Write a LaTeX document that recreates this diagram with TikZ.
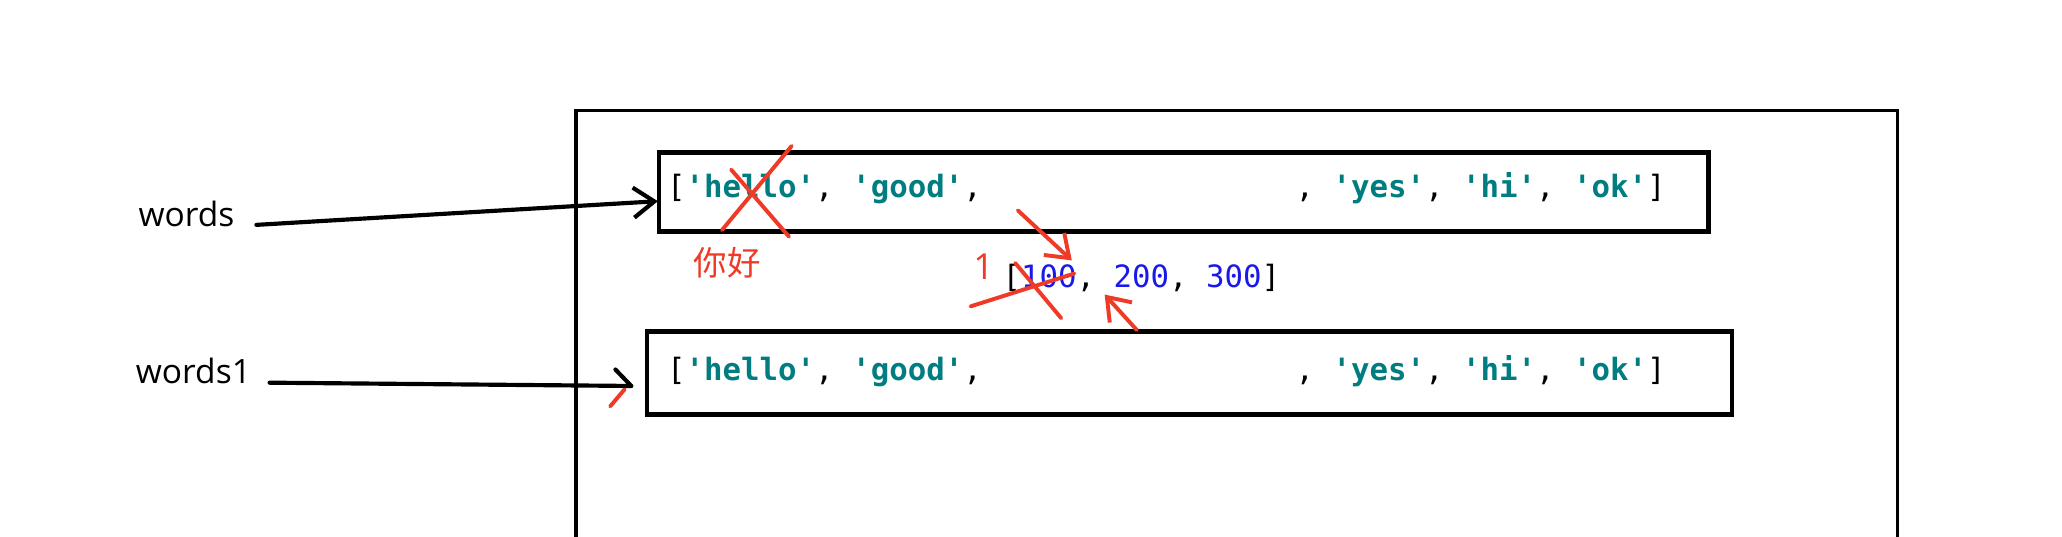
\documentclass[tikz,border=0pt]{standalone}
\usepackage{fontspec}
\usetikzlibrary{arrows.meta,fit,calc}
\newfontfamily\monof{DejaVu Sans Mono}
\newfontfamily\labf{Open Sans}
\newfontfamily\cjkf{Noto Sans CJK SC}
\definecolor{strteal}{RGB}{0,125,128}
\definecolor{annred}{RGB}{240,58,40}
\definecolor{numblue}{RGB}{25,25,235}
\newcommand{\strv}[1]{\textcolor{strteal}{\bfseries #1}}
\newcommand{\numv}[1]{\textcolor{numblue}{#1}}
\tikzset{
  listbox/.style={draw=black, line width=2pt, inner sep=0pt},
  codetext/.style={inner sep=0pt, anchor=base west, font=\monof\fontsize{13.3pt}{16pt}\selectfont},
  labtext/.style={inner sep=0pt, anchor=base west, font=\labf\fontsize{14.5pt}{17pt}\selectfont},
  blkline/.style={draw=black, line width=1.8pt, line cap=round},
  redline/.style={draw=annred, line width=1.7pt, line cap=round},
  redarrow/.style={redline, -{Straight Barb[length=9pt,width=13pt,line width=1.7pt]}},
}
\begin{document}
\begin{tikzpicture}[x=0.2mm,y=-0.2mm]
\useasboundingbox (0,0) rectangle (1568,408);
\fill[white] (0,0) rectangle (1568,408);
% outer frame
\draw[line width=1.6pt] (438,412) -- (438,84) -- (1443,84) -- (1443,412);
% boxes
\node[listbox, fit={(501,116)(1299,176)}] (topbox) {};
\node[listbox, fit={(492,252)(1317,315)}] (botbox) {};
% list texts
\node[codetext] (topL) at (507,150) {[\strv{'hello'}, \strv{'good'},};
\node[codetext, anchor=base east] (topR) at (1267,150) {, \strv{'yes'}, \strv{'hi'}, \strv{'ok'}]};
\node[codetext] (botL) at (507,289) {[\strv{'hello'}, \strv{'good'},};
\node[codetext, anchor=base east] (botR) at (1267,289) {, \strv{'yes'}, \strv{'hi'}, \strv{'ok'}]};
\node[codetext] (mid) at (762,219) {[\numv{100}, \numv{200}, \numv{300}]};
% labels
\node[labtext] (w) at (105,172) {words};
\node[labtext] (w1) at (103,292) {words1};
\node[inner sep=0pt, text=annred, font=\cjkf\fontsize{14.5pt}{17pt}\selectfont] (nihao) at (553,200) {你好};
\node[inner sep=0pt, text=annred, font=\labf\fontsize{15.5pt}{18pt}\selectfont] (one) at (748,203) {1};
% words arrow
\coordinate (wstart) at (195,171);
\coordinate (wtip) at ($(topbox.west)+(1,7)$);
\draw[blkline, -{Straight Barb[length=9pt,width=13pt,line width=1.8pt]}] (wstart) -- (wtip);
% words1 arrow
\coordinate (w1start) at (205,291);
\coordinate (w1tip) at (480,293.5);
\draw[blkline] (w1start) -- (w1tip);
\draw[blkline] (468,281) -- (w1tip);
\draw[redline] (464,309) -- (475,296);
% cross on hello
\draw[redline] (549,175) -- (602,111);
\draw[redline] (556,129) -- (600,180);
% cross on 100
\draw[redline] (738,233) -- (817,208);
\draw[redline] (772,200) -- (807,242);
% red arrows
\coordinate (a1s) at (774,160);
\coordinate (a1e) at (815,198);
\draw[redarrow] (a1s) -- (a1e);
\coordinate (a2s) at (864.5,251);
\coordinate (a2e) at (840,224);
\draw[redarrow] (a2s) -- (a2e);
\end{tikzpicture}
\end{document}
